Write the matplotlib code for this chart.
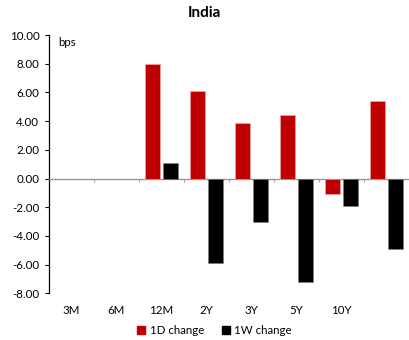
import numpy as np
import matplotlib.pyplot as plt
from matplotlib.patches import Patch
from matplotlib.transforms import blended_transform_factory

plt.rcParams['font.family'] = ['Lato', 'DejaVu Sans']

tenors = ['3M', '6M', '12M', '2Y', '3Y', '5Y', '10Y', '']
# no prints for the short end
chg_1d = [np.nan, np.nan, 8.0, 6.1, 3.85, 4.45, -1.1, 5.4]
chg_1w = [np.nan, np.nan, 1.1, -5.9, -3.0, -7.2, -1.9, -4.9]

red = '#C00000'
blk = '#000000'

fig = plt.figure(figsize=(4.09, 3.40), dpi=100)
ax = fig.add_axes([49 / 409, 0.137, 1 - 49 / 409, 0.76])

x = np.arange(len(tenors))
w = 0.333
ax.bar(x - 0.2, chg_1d, w, color=red, edgecolor='#f0b0b0', linewidth=0.4, zorder=3)
ax.bar(x + 0.2, chg_1w, w, color=blk, edgecolor='#808080', linewidth=0.4, zorder=3)

ax.set_xlim(-0.5, len(tenors) - 0.5)
ax.set_ylim(-8, 10)
ax.set_yticks(np.arange(-8, 10.1, 2))
ax.set_yticklabels([f'{v:.2f}' for v in np.arange(-8, 10.1, 2)], fontsize=8.3)
ax.tick_params(axis='y', direction='out', length=3, width=0.8, pad=4)

for s in ['top', 'right']:
    ax.spines[s].set_visible(False)
ax.spines['left'].set_linewidth(0.9)
ax.spines['bottom'].set_position(('data', 0))
ax.spines['bottom'].set_color('#909090')
ax.spines['bottom'].set_linewidth(0.9)

# category boundaries as short ticks on the zero line
ax.set_xticks(np.arange(-0.5, len(tenors) - 0.4, 1))
ax.set_xticklabels([])
ax.tick_params(axis='x', direction='out', length=2, width=0.6, color='#909090')

trans = blended_transform_factory(ax.transData, ax.transAxes)
for xi, lab in zip(x, tenors):
    ax.text(xi, -0.065, lab, transform=trans, ha='center', va='center', fontsize=8.3)

ax.text(0.025, 0.97, 'bps', transform=ax.transAxes, fontsize=8.3, va='center')

fig.text(0.5, 0.963, 'India', ha='center', va='center', fontsize=11, fontweight='bold')

handles = [Patch(color=red, label='1D change'), Patch(color=blk, label='1W change')]
fig.legend(handles=handles, loc='center', bbox_to_anchor=(0.525, 0.027), ncol=2,
           frameon=False, fontsize=8.3, handlelength=0.7, handleheight=0.7,
           handletextpad=0.4, columnspacing=1.5)

fig.savefig('out.png', dpi=100)
